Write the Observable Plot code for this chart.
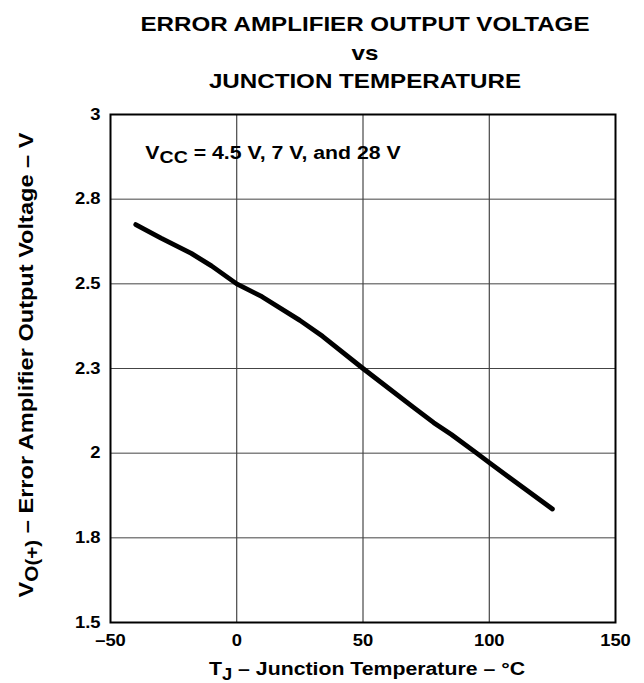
<!DOCTYPE html>
<html>
<head>
<meta charset="utf-8">
<script src="https://cdn.jsdelivr.net/npm/d3@7"></script>
<script src="https://cdn.jsdelivr.net/npm/@observablehq/plot@0.6"></script>
<style>
  body { margin: 0; background: white; font-family: "Liberation Sans", Arial, sans-serif; }
  #title {
    box-sizing: border-box; width: 644px; height: 100px;
    padding-left: 86px; padding-top: 10px;
    text-align: center; font-weight: bold; font-size: 21px;
    line-height: 28.5px; color: #000;
  }
  #title div { transform: scaleX(1.15); transform-origin: center; }
</style>
</head>
<body>
<div id="title">
  <div>ERROR AMPLIFIER OUTPUT VOLTAGE</div>
  <div>vs</div>
  <div>JUNCTION TEMPERATURE</div>
</div>
<div id="chart"></div>
<script>
// Junction temperature (°C)
const tempC = [-40, -30, -18, -10, 0, 10, 25, 34, 50, 70, 78, 85, 95, 100, 125];
// Error amplifier output voltage (V)
const voutV = [2.675, 2.635, 2.59, 2.553, 2.5, 2.462, 2.392, 2.345, 2.25, 2.135, 2.09, 2.055, 2.0, 1.972, 1.835];

const xTicks = [-50, 0, 50, 100, 150];
const xTickLabels = ["–50", "0", "50", "100", "150"];
const yTicks = [1.5, 1.75, 2, 2.25, 2.5, 2.75, 3];
const yTickLabels = ["1.5", "1.8", "2", "2.3", "2.5", "2.8", "3"];

const annotation = {x: -36, y: 2.866, main: "V", sub: "CC", rest: " = 4.5 V, 7 V, and 28 V"};

const data = tempC.map((t, i) => ({t, v: voutV[i]}));
const xLab = new Map(xTicks.map((d, i) => [d, xTickLabels[i]]));
const yLab = new Map(yTicks.map((d, i) => [d, yTickLabels[i]]));

const chart = Plot.plot({
  width: 644,
  height: 583,
  marginTop: 14,
  marginBottom: 61,
  marginLeft: 110,
  marginRight: 29,
  style: {fontFamily: "'Liberation Sans', Arial, sans-serif", fontSize: "16px", fontWeight: "bold", color: "black", background: "white"},
  x: {domain: [-50, 150]},
  y: {domain: [1.5, 3]},
  marks: [
    Plot.gridX(xTicks, {stroke: "#222", strokeOpacity: 1, strokeWidth: 1}),
    Plot.gridY(yTicks, {stroke: "#444", strokeOpacity: 1, strokeWidth: 1}),
    Plot.axisX({ticks: xTicks, tickFormat: d => xLab.get(d), tickSize: 0, tickPadding: 12, label: null}),
    Plot.axisY({ticks: yTicks, tickFormat: d => yLab.get(d), tickSize: 0, tickPadding: 10, label: null}),
    Plot.line(data, {x: "t", y: "v", stroke: "black", strokeWidth: 4.8, strokeLinecap: "round", strokeLinejoin: "round"}),
    Plot.frame({stroke: "black", strokeWidth: 2})
  ]
});

document.getElementById("chart").appendChild(chart);

const svg = d3.select(chart);
const sx = chart.scale("x"), sy = chart.scale("y");
const STRETCH = 1.15;

// widen tick labels like the reference typeface (keep Plot's own x/y/dy attributes)
svg.selectAll('g[aria-label$="tick label"] text').each(function() {
  const t = this.getAttribute("transform") || "";
  this.setAttribute("transform", `${t} scale(${STRETCH},1)`);
});

// annotation with subscript
const ann = svg.append("text")
  .attr("transform", `translate(${sx.apply(annotation.x)},${sy.apply(annotation.y)}) scale(${STRETCH},1)`)
  .attr("text-anchor", "start")
  .style("font-size", "18.5px").style("font-weight", "bold");
ann.append("tspan").text(annotation.main);
ann.append("tspan").attr("dy", 4).style("font-size", "17px").text(annotation.sub);
ann.append("tspan").attr("dy", -4).text(annotation.rest);

// x axis label
const xl = svg.append("text")
  .attr("transform", `translate(367,575) scale(${STRETCH},1)`)
  .attr("text-anchor", "middle")
  .style("font-size", "18.5px").style("font-weight", "bold");
xl.append("tspan").text("T");
xl.append("tspan").attr("dy", 5).style("font-size", "16px").text("J");
xl.append("tspan").attr("dy", -5).text(" – Junction Temperature – °C");

// y axis label
const yl = svg.append("text")
  .attr("transform", `translate(33,265) rotate(-90) scale(${STRETCH},1)`)
  .attr("text-anchor", "middle")
  .style("font-size", "20.5px").style("font-weight", "bold");
yl.append("tspan").text("V");
yl.append("tspan").attr("dy", 5).style("font-size", "18px").text("O(+)");
yl.append("tspan").attr("dy", -5).text(" – Error Amplifier Output Voltage – V");
</script>
</body>
</html>
